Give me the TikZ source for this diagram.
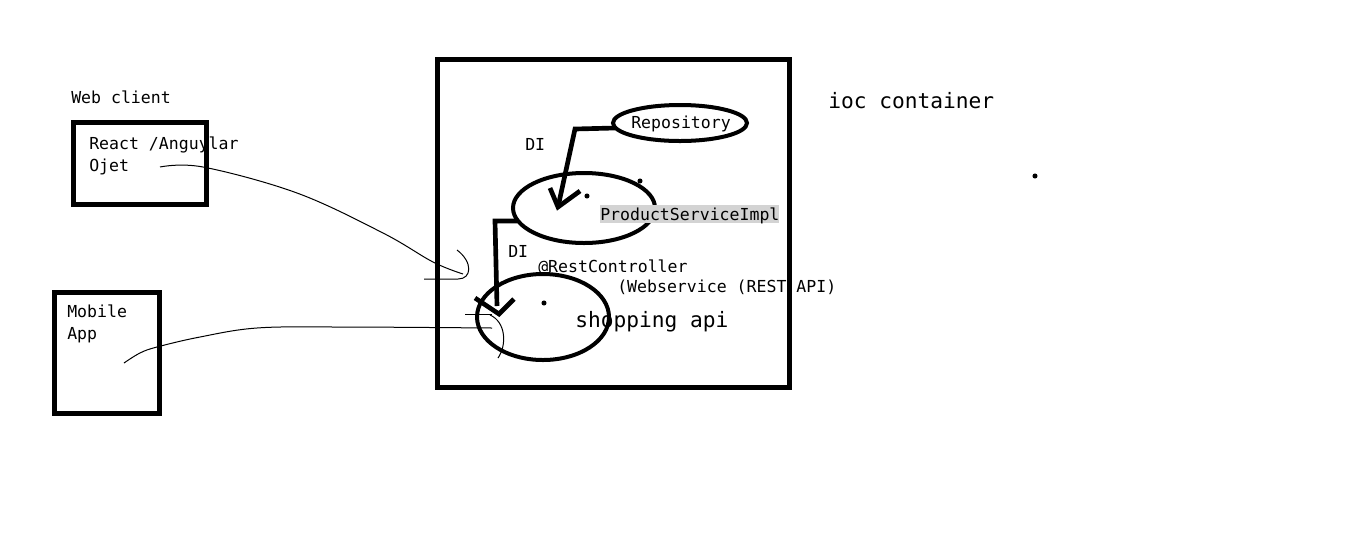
\documentclass[tikz,border=0pt]{standalone}
\usepackage{fontspec}
\newfontfamily\mono{DejaVu Sans Mono}
\usetikzlibrary{shapes.geometric}
\definecolor{hl}{HTML}{D3D3D3}
\tikzset{
  lbl/.style={font=\mono\fontsize{12.4pt}{14pt}\selectfont, inner sep=0pt, anchor=base west},
  biglbl/.style={font=\mono\fontsize{15.9pt}{18pt}\selectfont, inner sep=0pt, anchor=base west},
  thickbox/.style={draw, line width=3.75pt, rectangle, inner sep=0pt},
  bean/.style={draw, line width=3pt, ellipse, inner sep=0pt},
  di/.style={line width=3.5pt, line join=miter},
  wire/.style={line width=0.75pt},
  dot/.style={fill=black}
}
\begin{document}
\begin{tikzpicture}[x=0.75pt,y=-0.75pt]
\useasboundingbox (0,0) rectangle (1349,544);
% texts
\node[lbl] (tweb) at (71,103) {Web client};
\node[lbl] (treact) at (89,149) {React /Anguylar};
\node[lbl] (tojet) at (89,171) {Ojet};
\node[lbl] (tmob) at (67,317) {Mobile};
\node[lbl] (tapp) at (67,339) {App};
\node[lbl] (tdi1) at (525,150) {DI};
\node[lbl] (tdi2) at (508,257) {DI};
\node[lbl] (trest) at (538,272) {@RestController};
\node[lbl] (tws) at (617,292) {(Webservice (REST API)};
\node[biglbl] (tshop) at (575,327) {shopping api};
\node[biglbl] (tioc) at (828,108) {ioc container};
% boxes
\node[thickbox, minimum width=99.75pt, minimum height=61.5pt] (web) at (139.5,163) {};
\node[thickbox, minimum width=78.75pt, minimum height=90.75pt] (mob) at (106.5,352.5) {};
\node[thickbox, minimum width=264pt, minimum height=246pt] (ioc) at (613,223) {};
% beans
\node[bean, minimum width=100.5pt, minimum height=27pt] (repo) at (680,123) {};
\node[lbl] (trepo) at (631,128) {Repository};
\node[bean, minimum width=106.5pt, minimum height=52.5pt] (prod) at (584,208) {};
\node[lbl, fill=hl, text height=11.5pt, text depth=2.25pt] (tprod) at (600,220) {ProductServiceImpl};
\node[bean, minimum width=99pt, minimum height=64.5pt] (shop) at (543,317) {};
% dots
\fill[dot] (640,181) circle[radius=1.9pt];
\fill[dot] (587,196) circle[radius=1.9pt];
\fill[dot] (544,303) circle[radius=1.9pt];
\fill[dot] (1035,176) circle[radius=1.9pt];
% DI connectors
\coordinate (r1) at (615,128);
\coordinate (tip1) at (558,207);
\draw[di] (r1) -- (575,129) -- (tip1);
\draw[di] (550,188) -- (tip1) -- (580,191);
\coordinate (p1) at (517,221);
\coordinate (tip2) at (499,314);
\draw[di] (p1) -- (495,221) -- (497,306);
\draw[di] (475,298) -- (tip2) -- (514,299);
% hand drawn wires
\coordinate (wstart) at (160,167);
\coordinate (wend) at (463,274);
\draw[wire] plot[smooth, tension=0.6] coordinates {(160,167) (203,167) (297,193) (383,233) (433,262) (463,274)};
\draw[wire] (457,250) .. controls (473,262) and (472,279) .. (458,279) -- (424,279);
\coordinate (mstart) at (124,363);
\draw[wire] plot[smooth, tension=0.6] coordinates {(124,363) (140,353) (157,347) (200,337) (257,328) (340,327) (492,328)};
\draw[wire] (465,314) -- (492,314);
\draw[wire] (490,315) .. controls (506,322) and (507,345) .. (498,358);
\end{tikzpicture}
\end{document}
